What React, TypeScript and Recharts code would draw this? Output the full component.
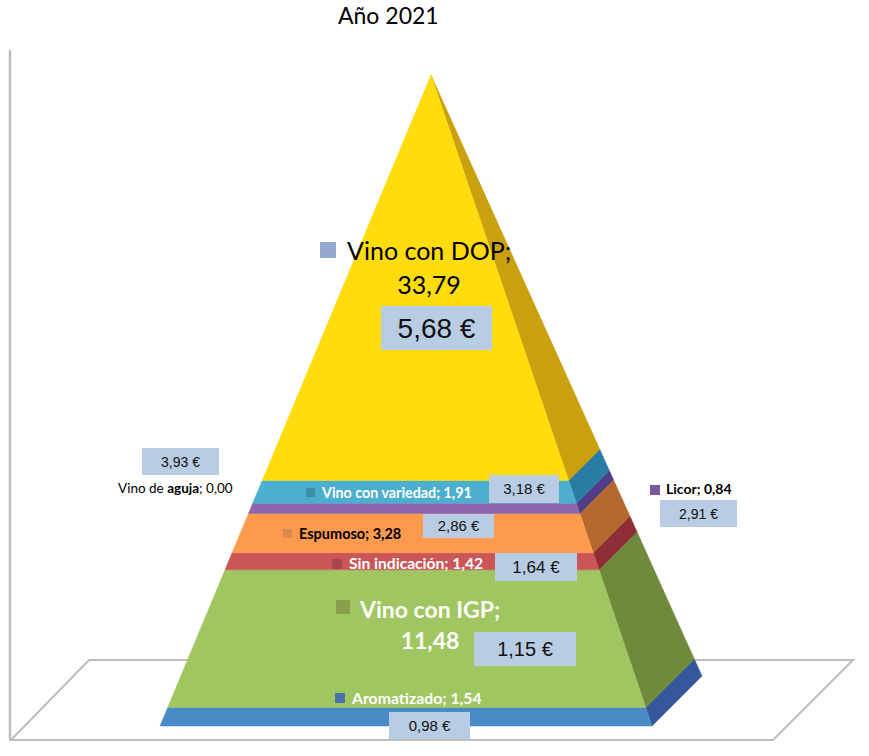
import React from "react";
import { BarChart, Bar, XAxis, YAxis, Customized, LabelList } from "recharts";

const seriesNames = ["Aromatizado", "Vino con IGP", "Sin indicación", "Espumoso", "Licor", "Vino con variedad", "Vino de aguja", "Vino con DOP"];
const seriesValues = [1.54, 11.48, 1.42, 3.28, 0.84, 1.91, 0.0, 33.79];
const seriesPrices = ["0,98 €", "1,15 €", "1,64 €", "2,86 €", "2,91 €", "3,18 €", "3,93 €", "5,68 €"];
const total = seriesValues.reduce((a, b) => a + b, 0);
const row: Record<string, number | string> = { cat: "Año 2021" };
seriesNames.forEach((n, i) => (row[n] = seriesValues[i]));
const data = [row];

const frontColors = ["#4a8bc6", "#a0c662", "#cb5658", "#fd9a4e", "#8d65ac", "#4bafcd", "#888888", "#ffdc0c"];
const sideColors = ["#35599b", "#6f8a3c", "#902f38", "#b4692f", "#513c85", "#2b7ba3", "#666666", "#c9a00c"];
const markerColors = ["#4a73ad", "#8a9f4c", "#a8454e", "#d98c4c", "#775a96", "#3f8ea8", "#888888", "#95a9d0"];

const TOP = 75, PLOT_H = 651, LEFT = 160, PLOT_W = 542, DEPTH = 50;

function Slice(props: any) {
  const { x, y, width, height, index2 } = props;
  if (!(height > 0)) return null;
  const cx = x + width / 2;
  const fr = x + width - DEPTH;
  const t0 = (y - TOP) / PLOT_H;
  const t1 = (y + height - TOP) / PLOT_H;
  const lx = (t: number) => cx + (x - cx) * t;
  const rx = (t: number) => cx + (fr - cx) * t;
  const bx = (t: number) => cx + (x + width - cx) * t;
  const by = (t: number) => TOP + t * (PLOT_H - DEPTH);
  const yy = (t: number) => TOP + t * PLOT_H;
  return (
    <g filter="url(#soft)">
      <polygon points={`${rx(t0)},${yy(t0)} ${bx(t0)},${by(t0)} ${bx(t1)},${by(t1)} ${rx(t1)},${yy(t1)}`} fill={sideColors[index2]} stroke={sideColors[index2]} strokeWidth={0.5} />
      <polygon points={`${lx(t0)},${yy(t0)} ${rx(t0)},${yy(t0)} ${rx(t1)},${yy(t1)} ${lx(t1)},${yy(t1)}`} fill={frontColors[index2]} stroke={frontColors[index2]} strokeWidth={0.5} />
    </g>
  );
}

function Floor() {
  return (
    <g fill="none" stroke="#bdbdbd" strokeWidth={2}>
      <defs>
        <filter id="soft" x="-5%" y="-5%" width="110%" height="110%" filterUnits="objectBoundingBox">
          <feGaussianBlur stdDeviation="0.6" />
        </filter>
      </defs>
      <polyline points="10,50 10,740" strokeWidth={2.5} />
      <polygon points="11,740 89,660 853,660 773,740" />
    </g>
  );
}

const sans = "Lato, Carlito, sans-serif";
const arial = "'Liberation Sans', Arial, sans-serif";

// layout per series, same order as the arrays
const nameLayout = [
  { mx: 335, my: 693, ms: 10, tx: 352, ty: 704, fs: 15.8, fill: "#fff", bold: true },
  { mx: 336, my: 600, ms: 14, tx: 360, ty: 618, fs: 23, fill: "#fff", bold: true },
  { mx: 332, my: 559, ms: 10, tx: 349, ty: 569, fs: 15.6, fill: "#fff", bold: true },
  { mx: 283, my: 529, ms: 9, tx: 299, ty: 539, fs: 14.5, fill: "#000", bold: true },
  { mx: 650, my: 485, ms: 10, tx: 666, ty: 494, fs: 14, fill: "#000", bold: true },
  { mx: 306, my: 488, ms: 9, tx: 322, ty: 498, fs: 14.3, fill: "#fff", bold: true },
  null,
  { mx: 320, my: 242, ms: 16, tx: 347, ty: 260, fs: 25, fill: "#000", bold: false },
];
const priceLayout = [
  { x: 389, y: 712, w: 81, h: 27, fs: 15 },
  { x: 474, y: 632, w: 102, h: 34, fs: 20 },
  { x: 495, y: 553, w: 82, h: 28, fs: 17 },
  { x: 423, y: 514, w: 71, h: 24, fs: 15 },
  { x: 660, y: 500, w: 77, h: 27, fs: 14 },
  { x: 489, y: 475, w: 70, h: 28, fs: 15 },
  { x: 142, y: 448, w: 77, h: 27, fs: 14 },
  { x: 381, y: 306, w: 111, h: 44, fs: 28 },
];
const fmt = (v: number) => v.toFixed(2).replace(".", ",");

function Labels() {
  return (
    <g>
      <text x={338} y={24} fontFamily={sans} fontSize={23} fill="#000">Año 2021</text>
      {seriesNames.map((name, i) => {
        const p = priceLayout[i];
        const n = nameLayout[i];
        const twoLine = i === 1 || i === 7;
        return (
          <g key={name}>
            <rect x={p.x} y={p.y} width={p.w} height={p.h} fill="#b8cce4" />
            <text x={p.x + p.w / 2} y={p.y + p.h / 2 + p.fs * 0.36} textAnchor="middle" fontFamily={arial} fontSize={p.fs} fill="#111">{seriesPrices[i]}</text>
            {n && <rect x={n.mx} y={n.my} width={n.ms} height={n.ms} fill={markerColors[i]} />}
            {n && !twoLine && (
              <text x={n.tx} y={n.ty} fontFamily={sans} fontSize={n.fs} fontWeight={700} fill={n.fill}>{`${name}; ${fmt(seriesValues[i])}`}</text>
            )}
            {n && twoLine && (
              <text fontFamily={sans} fontSize={n.fs} fontWeight={n.bold ? 700 : 400} fill={n.fill}>
                <tspan x={n.tx} y={n.ty}>{`${name};`}</tspan>
                <tspan x={i === 1 ? 430 : 429} y={i === 1 ? 649 : 294} textAnchor="middle">{fmt(seriesValues[i])}</tspan>
              </text>
            )}
          </g>
        );
      })}
      <text x={118} y={493} fontFamily={sans} fontSize={13.5} fill="#000">
        Vino de <tspan fontWeight={700}>aguja</tspan>; {fmt(seriesValues[6])}
      </text>
    </g>
  );
}

export default function App() {
  const last = seriesNames.length - 1;
  return (
    <div style={{ position: "absolute", left: 0, top: 0, width: 869, height: 756, background: "#fff" }}>
      <BarChart
        width={869}
        height={756}
        data={data}
        barCategoryGap={0}
        margin={{ top: TOP, bottom: 756 - TOP - PLOT_H, left: LEFT, right: 869 - LEFT - PLOT_W }}
      >
        <XAxis dataKey="cat" hide />
        <YAxis hide domain={[0, total]} />
        <Customized component={Floor} />
        {seriesNames.map((name, i) => (
          <Bar key={name} dataKey={name} stackId="a" isAnimationActive={false} shape={(p: any) => <Slice {...p} index2={i} />}>
            {i === last && <LabelList dataKey={name} content={() => <Labels />} />}
          </Bar>
        ))}
      </BarChart>
    </div>
  );
}
